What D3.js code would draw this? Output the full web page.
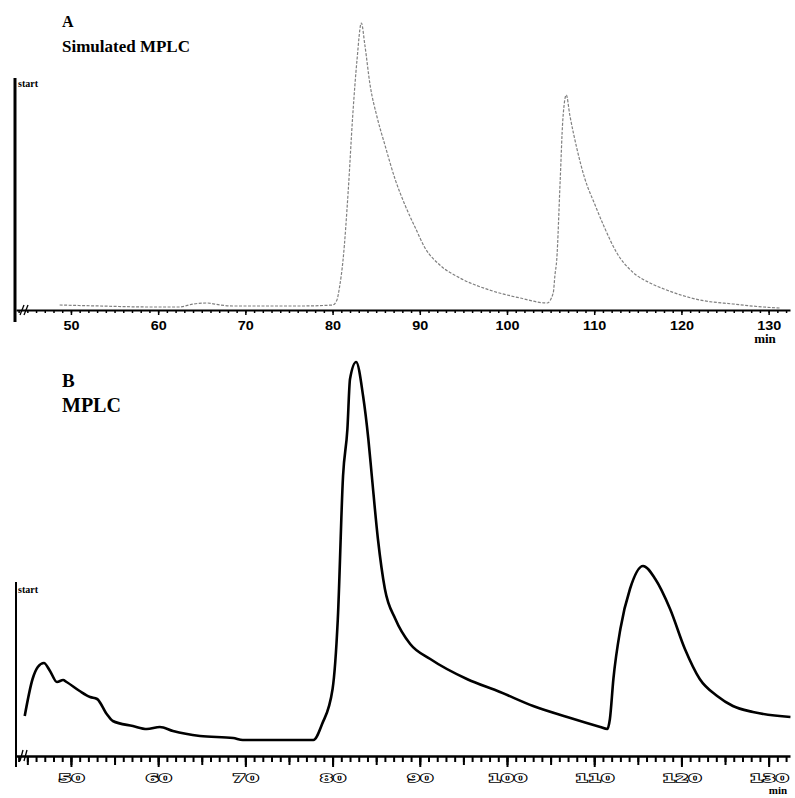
<!DOCTYPE html>
<html>
<head>
<meta charset="utf-8">
<script src="https://cdn.jsdelivr.net/npm/d3@7"></script>
<style>
  body { margin: 0; background: #fff; }
  svg { display: block; }
</style>
</head>
<body>
<div id="chart"></div>
<script>
// panel A: simulated MPLC (retention time in min, signal in arbitrary units)
const timeA = [48.7, 53.3, 59.1, 62.5, 64.0, 65.6, 67.1, 68.6, 76.3, 80.0, 80.5, 80.8, 81.2, 81.8, 82.3, 82.8, 83.3,
  83.7, 84.3, 85.1, 86.0, 87.2, 88.3, 89.5, 90.6, 92.3, 94.6, 98.0, 101.5, 104.6, 105.3, 105.5, 105.7, 106.1, 106.4,
  106.8, 107.2, 108.0, 108.9, 110.1, 111.2, 112.6, 114.4, 116.4, 118.3, 122.1, 125.9, 129.4, 131.3];
const signalA = [5, 4, 3, 3, 6, 7, 5, 4, 4, 5, 10, 23, 50, 120, 193, 250, 287,
  265, 225, 193, 165, 130, 105, 82, 62, 45, 32, 20, 12, 7, 17, 35, 50, 130, 190,
  215, 195, 162, 132, 105, 82, 57, 38, 27, 20, 10, 6, 3, 2];

// panel B: measured MPLC
const timeB = [44.7, 45.6, 46.2, 46.9, 47.6, 48.4, 49.1, 49.5, 51.0, 52.2, 53.0, 54.1, 54.8, 57.1, 58.7, 60.2,
  61.7, 64.8, 68.6, 69.7, 77.8, 78.8, 80.0, 80.6, 81.2, 81.7, 82.0, 82.7, 83.5, 84.1, 84.5, 85.2, 86.0,
  87.2, 88.9, 91.2, 95.4, 99.2, 103.0, 106.9, 110.7, 111.5, 111.8, 112.2, 113.0, 114.1, 115.6, 117.0,
  118.7, 120.4, 122.1, 124.1, 125.9, 128.2, 132.5];
const signalB = [40, 77, 89, 93, 85, 74, 76, 74, 65, 59, 57, 42, 35, 30, 27, 29,
  25, 20, 18, 16, 16, 32, 67, 137, 280, 327, 377, 394, 360, 317, 280, 217, 167,
  137, 112, 97, 77, 64, 50, 39, 29, 27, 37, 77, 127, 167, 190, 177,
  147, 107, 77, 60, 50, 44, 39];

const tickLabels = [50, 60, 70, 80, 90, 100, 110, 120, 130];

const width = 795, height = 798;
const svg = d3.select("#chart").append("svg")
  .attr("width", width)
  .attr("height", height);

const x = d3.scaleLinear().domain([43.7, 132.45]).range([16, 790]);
const yA = d3.scaleLinear().domain([0, 300]).range([310, 10]);
const yB = d3.scaleLinear().domain([0, 400]).range([756, 356]);

const serif = "'Liberation Serif', 'Times New Roman', serif";
const sans = "'Liberation Sans', Arial, sans-serif";

// ---------- panel A ----------
svg.append("text").attr("x", 62).attr("y", 27)
  .style("font-family", serif).style("font-weight", "bold").style("font-size", "16px")
  .text("A");
svg.append("text").attr("x", 62).attr("y", 52)
  .style("font-family", serif).style("font-weight", "bold").style("font-size", "17px")
  .text("Simulated MPLC");

// y axis line
svg.append("line")
  .attr("x1", 15).attr("x2", 15)
  .attr("y1", yA(232)).attr("y2", yA(-12))
  .attr("stroke", "#000").attr("stroke-width", 3);
svg.append("text").attr("x", 18).attr("y", 87)
  .style("font-family", serif).style("font-size", "10px").style("font-weight", "bold")
  .text("start");

// x axis: minor ticks every minute, major every 10
const axisA = svg.append("g").attr("transform", `translate(0,${yA(0)})`);
axisA.append("g")
  .call(d3.axisBottom(x).tickValues(d3.range(44, 133)).tickSize(3).tickSizeOuter(0).tickFormat(""))
  .call(g => g.select(".domain").attr("stroke-width", 2))
  .call(g => g.selectAll(".tick line").attr("stroke-width", 1.5));
axisA.append("g")
  .call(d3.axisBottom(x).tickValues(tickLabels).tickSize(5).tickPadding(6).tickSizeOuter(0))
  .call(g => g.select(".domain").remove())
  .call(g => g.selectAll(".tick line").attr("stroke-width", 1.5))
  .selectAll("text")
  .attr("transform", "scale(1.2,1)")
  .style("font-family", sans).style("font-weight", "bold").style("font-size", "12px")
  .attr("fill", "#000");

svg.append("text").attr("x", 765).attr("y", 343).attr("text-anchor", "middle")
  .style("font-family", serif).style("font-weight", "bold").style("font-size", "13px")
  .text("min");

// break mark on the axis
[0, 4].forEach(dx => {
  svg.append("line")
    .attr("x1", 20 + dx).attr("y1", yA(0) + 5)
    .attr("x2", 24 + dx).attr("y2", yA(0) - 5)
    .attr("stroke", "#000").attr("stroke-width", 1.3);
});

const lineA = d3.line().x((d, i) => x(timeA[i])).y(d => yA(d)).curve(d3.curveMonotoneX);
svg.append("path")
  .datum(signalA)
  .attr("d", lineA)
  .attr("fill", "none")
  .attr("stroke", "#808080")
  .attr("stroke-width", 1.2)
  .attr("stroke-dasharray", "3,1.5");

// ---------- panel B ----------
svg.append("text").attr("x", 62).attr("y", 387)
  .style("font-family", serif).style("font-weight", "bold").style("font-size", "19px")
  .text("B");
svg.append("text").attr("x", 62).attr("y", 412)
  .style("font-family", serif).style("font-weight", "bold").style("font-size", "20px")
  .text("MPLC");

svg.append("line")
  .attr("x1", 16).attr("x2", 16)
  .attr("y1", yB(174)).attr("y2", yB(-11))
  .attr("stroke", "#000").attr("stroke-width", 2);
svg.append("text").attr("x", 18).attr("y", 593)
  .style("font-family", serif).style("font-size", "10px").style("font-weight", "bold")
  .text("start");

const axisB = svg.append("g").attr("transform", `translate(0,${yB(0)})`);
axisB.append("g")
  .call(d3.axisBottom(x).tickValues(d3.range(44, 133)).tickSize(6).tickSizeOuter(0).tickFormat(""))
  .call(g => g.select(".domain").attr("stroke-width", 2.5))
  .call(g => g.selectAll(".tick line").attr("stroke-width", 2));
axisB.append("g")
  .call(d3.axisBottom(x).tickValues(d3.range(45, 133, 5)).tickSize(9).tickSizeOuter(0).tickFormat(""))
  .call(g => g.select(".domain").remove())
  .call(g => g.selectAll(".tick line").attr("stroke-width", 2));
axisB.append("g")
  .call(d3.axisBottom(x).tickValues(tickLabels).tickSize(11).tickPadding(7).tickSizeOuter(0))
  .call(g => g.select(".domain").remove())
  .call(g => g.selectAll(".tick line").attr("stroke-width", 2))
  .selectAll("text")
  .attr("transform", "scale(1.7,1)")
  .style("font-family", "'DejaVu Sans', sans-serif").style("font-weight", "bold").style("font-size", "11px")
  .attr("fill", "#fff").attr("stroke", "#000").attr("stroke-width", 1.6)
  .attr("paint-order", "stroke");

svg.append("text").attr("x", 778).attr("y", 794).attr("text-anchor", "middle")
  .style("font-family", serif).style("font-weight", "bold").style("font-size", "11px")
  .text("min");

[0, 4].forEach(dx => {
  svg.append("line")
    .attr("x1", 20 + dx).attr("y1", yB(0) + 5)
    .attr("x2", 23 + dx).attr("y2", yB(0) - 6)
    .attr("stroke", "#000").attr("stroke-width", 1.3);
});

const lineB = d3.line().x((d, i) => x(timeB[i])).y(d => yB(d)).curve(d3.curveMonotoneX);
svg.append("path")
  .datum(signalB)
  .attr("d", lineB)
  .attr("fill", "none")
  .attr("stroke", "#000")
  .attr("stroke-width", 2.6)
  .attr("stroke-linejoin", "round");
</script>
</body>
</html>
